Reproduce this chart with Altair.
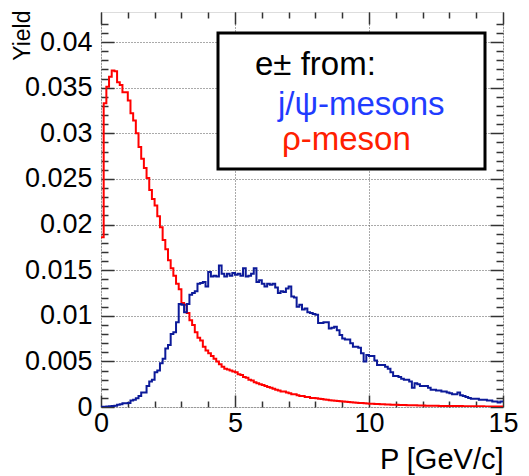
import altair as alt
import pandas as pd

# ---------------- data ----------------
# bin lower edges 0.0 .. 14.9 (width 0.1) plus the upper edge 15.0
p_edges = [round(0.1 * i, 1) for i in range(151)]

rho_yield = [
    0.0186, 0.0333, 0.0351, 0.0362, 0.0369, 0.0368, 0.0356, 0.0353, 0.0345, 0.0345,
    0.0336, 0.0322, 0.0314, 0.0300, 0.0285, 0.0272, 0.0262, 0.0251, 0.0238, 0.0228,
    0.0221, 0.0209, 0.0197, 0.0183, 0.0173, 0.0161, 0.0152, 0.0144, 0.0135, 0.0129,
    0.0114, 0.0112, 0.0103, 0.0095, 0.0090, 0.0082, 0.0076, 0.0073, 0.0066, 0.0062,
    0.0059, 0.0056, 0.0053, 0.0050, 0.0047, 0.0044, 0.0042, 0.0041, 0.0040, 0.0039,
    0.0038, 0.0036, 0.0035, 0.0033, 0.0032, 0.0030, 0.0029, 0.0027, 0.0026, 0.0025,
    0.0024, 0.0023, 0.0022, 0.0021, 0.0020, 0.0019, 0.0018, 0.0017, 0.0017, 0.0016,
    0.0015, 0.0014, 0.0014, 0.0013, 0.0012, 0.0012, 0.0011, 0.0011, 0.0010, 0.0010,
    0.00095, 0.00091, 0.00087, 0.00082, 0.00079, 0.00075, 0.00071, 0.00068, 0.00066, 0.00062,
    0.00060, 0.00057, 0.00054, 0.00052, 0.00050, 0.00047, 0.00045, 0.00043, 0.00041, 0.00039,
    0.00037, 0.00036, 0.00034, 0.00032, 0.00031, 0.00030, 0.00028, 0.00027, 0.00026, 0.00025,
    0.00024, 0.00023, 0.00022, 0.00021, 0.00020, 0.00019, 0.00019, 0.00018, 0.00017, 0.00016,
    0.00016, 0.00015, 0.00015, 0.00014, 0.00013, 0.00013, 0.00012, 0.00012, 0.00011, 0.00011,
    0.00010, 0.00010, 0.00011, 0.00012, 0.00010, 0.00009, 0.00009, 0.00008, 0.00008, 0.00008,
    0.00007, 0.00007, 0.00007, 0.00006, 0.00006, 0.00006, 0.00005, 0.00005, 0.00005, 0.00005,
]

jpsi_yield = [
    0.00002, 0.00003, 0.00005, 0.00008, 0.00010, 0.00015, 0.00025, 0.00030, 0.00040, 0.00040,
    0.00045, 0.00070, 0.00080, 0.00095, 0.0012, 0.0016, 0.0016, 0.0023, 0.0028, 0.0030,
    0.0038, 0.0040, 0.0048, 0.0053, 0.0064, 0.0068, 0.0080, 0.0082, 0.0093, 0.0113,
    0.0112, 0.0104, 0.0113, 0.0123, 0.0125, 0.0127, 0.0135, 0.0136, 0.0137, 0.0132,
    0.0148, 0.0143, 0.0144, 0.0143, 0.0155, 0.0146, 0.0143, 0.0146, 0.0144, 0.0147,
    0.0145, 0.0146, 0.0144, 0.0152, 0.0143, 0.0144, 0.0146, 0.0152, 0.0137, 0.0139,
    0.0135, 0.0132, 0.0135, 0.0134, 0.0135, 0.0131, 0.0125, 0.0127, 0.0126, 0.0130,
    0.0132, 0.0121, 0.0120, 0.0110, 0.0112, 0.0107, 0.0108, 0.0104, 0.0103, 0.0102,
    0.0101, 0.0092, 0.0092, 0.0093, 0.0093, 0.0086, 0.0087, 0.0088, 0.0084, 0.0079,
    0.0075, 0.0074, 0.0074, 0.0070, 0.0066, 0.0066, 0.0065, 0.0059, 0.0050, 0.0057,
    0.0056, 0.0056, 0.0051, 0.0046, 0.0046, 0.0046, 0.0044, 0.0042, 0.0038, 0.0034,
    0.0034, 0.0033, 0.0031, 0.0030, 0.0030, 0.0028, 0.0021, 0.0026, 0.0025, 0.0023,
    0.0023, 0.0023, 0.0021, 0.0019, 0.0019, 0.0018, 0.0018, 0.0017, 0.0017, 0.0016,
    0.0015, 0.0014, 0.0014, 0.0016, 0.0013, 0.0012, 0.0011, 0.0010, 0.0009, 0.0009,
    0.0009, 0.0008, 0.0008, 0.0008, 0.0007, 0.0007, 0.0006, 0.0006, 0.0005, 0.0006,
]

x_major = [0, 5, 10, 15]
x_minor = [1, 2, 3, 4, 6, 7, 8, 9, 11, 12, 13, 14]
y_major = [0, 0.005, 0.01, 0.015, 0.02, 0.025, 0.03, 0.035, 0.04]
y_minor = [0.001, 0.002, 0.003, 0.004, 0.006, 0.007, 0.008, 0.009,
           0.011, 0.012, 0.013, 0.014, 0.016, 0.017, 0.018, 0.019,
           0.021, 0.022, 0.023, 0.024, 0.026, 0.027, 0.028, 0.029,
           0.031, 0.032, 0.033, 0.034, 0.036, 0.037, 0.038, 0.039,
           0.041, 0.042]
x_domain = [0, 15]
y_domain = [0, 0.0433]

x_title = "P [GeV/c]"
y_title = "Yield"
legend_header = "e± from:"
legend_labels = ["j/ψ-mesons", "ρ-meson"]

# ---------------- build ----------------
W, H = 402, 395
FONT = "Liberation Sans"
RED = "#ff0000"
NAVY = "#0c1a99"


def hist_frame(values, name):
    return pd.DataFrame({"p": p_edges, "y": values + [values[-1]], "series": name})


rho_df = hist_frame(rho_yield, legend_labels[1])
jpsi_df = hist_frame(jpsi_yield, legend_labels[0])

xs = alt.Scale(domain=x_domain, nice=False, zero=False)
ys = alt.Scale(domain=y_domain, nice=False, zero=False)


def tick_axis(orient, values, size, offset):
    return alt.Axis(orient=orient, values=values, offset=offset, tickSize=size,
                    labels=False, domain=False, grid=False, title="",
                    tickColor="#333", tickWidth=1.5)


main_x_axis = alt.Axis(orient="bottom", values=x_major, format="~g", ticks=False,
                       domain=False, grid=True, gridColor="#555", gridDash=[1, 2],
                       gridWidth=1, labelFont=FONT, labelFontSize=27,
                       labelColor="black", labelPadding=3, labelFlush=False,
                       labelOverlap=False,
                       title=x_title, titleFont=FONT, titleFontSize=29,
                       titleFontWeight="normal", titleColor="black",
                       titleAnchor="end", titleAlign="right", titleX=W, titleY=61,
                       titleBaseline="alphabetic")
main_y_axis = alt.Axis(orient="left", values=y_major, format="~g", ticks=False,
                       domain=False, grid=True, gridColor="#555", gridDash=[1, 2],
                       gridWidth=1, labelFont=FONT, labelFontSize=27,
                       labelColor="black", labelPadding=9, labelFlush=False,
                       labelOverlap=False,
                       title=y_title, titleFont=FONT, titleFontSize=23,
                       titleFontWeight="normal", titleColor="black",
                       titleAngle=270, titleAnchor="end", titleAlign="right",
                       titleX=-72, titleY=-2, titleBaseline="alphabetic")

red_line = alt.Chart(rho_df).mark_line(
    interpolate="step-after", color=RED, strokeWidth=2, clip=True
).encode(
    x=alt.X("p:Q", scale=xs, axis=main_x_axis),
    y=alt.Y("y:Q", scale=ys, axis=main_y_axis),
)

blue_line = alt.Chart(jpsi_df).mark_line(
    interpolate="step-after", color=NAVY, strokeWidth=2, clip=True
).encode(
    x=alt.X("p:Q", scale=xs, axis=tick_axis("top", x_major, 12, -H)),
    y=alt.Y("y:Q", scale=ys, axis=tick_axis("right", y_major, 13, -W)),
)


def ghost(xaxis, yaxis):
    return alt.Chart(jpsi_df).mark_line(opacity=0).encode(
        x=alt.X("p:Q", scale=xs, axis=xaxis),
        y=alt.Y("y:Q", scale=ys, axis=yaxis),
    )


g1 = ghost(tick_axis("top", x_minor, 6, -H), tick_axis("right", y_minor, 7, -W))
g2 = ghost(tick_axis("bottom", x_major, 12, -H), tick_axis("left", y_major, 13, -W))
g3 = ghost(tick_axis("bottom", x_minor, 6, -H), tick_axis("left", y_minor, 7, -W))

one = pd.DataFrame({"k": [0]})
legend_box = alt.Chart(one).mark_rect(
    fill="white", stroke="black", strokeWidth=3
).encode(x=alt.value(117), x2=alt.value(384), y=alt.value(21), y2=alt.value(157))

t_header = alt.Chart(one).mark_text(
    font=FONT, fontSize=33, color="black", align="left", baseline="alphabetic"
).encode(x=alt.value(154), y=alt.value(63), text=alt.value(legend_header))
t_jpsi = alt.Chart(one).mark_text(
    font=FONT, fontSize=33, color="#1f3cff", align="left", baseline="alphabetic"
).encode(x=alt.value(177), y=alt.value(103), text=alt.value(legend_labels[0]))
t_rho = alt.Chart(one).mark_text(
    font=FONT, fontSize=33, color="#ff2000", align="left", baseline="alphabetic"
).encode(x=alt.value(181), y=alt.value(138), text=alt.value(legend_labels[1]))

chart = alt.layer(
    red_line, blue_line, g1, g2, g3, legend_box, t_header, t_jpsi, t_rho
).resolve_axis(
    x="independent", y="independent"
).properties(
    width=W, height=H,
    autosize=alt.AutoSizeParams(type="none"),
    padding={"left": 93, "top": 4, "right": 18, "bottom": 69},
).configure_view(
    stroke="#333", strokeWidth=2
).configure(background="white")

chart.save("out.html", embed_options={"renderer": "svg", "actions": False})
